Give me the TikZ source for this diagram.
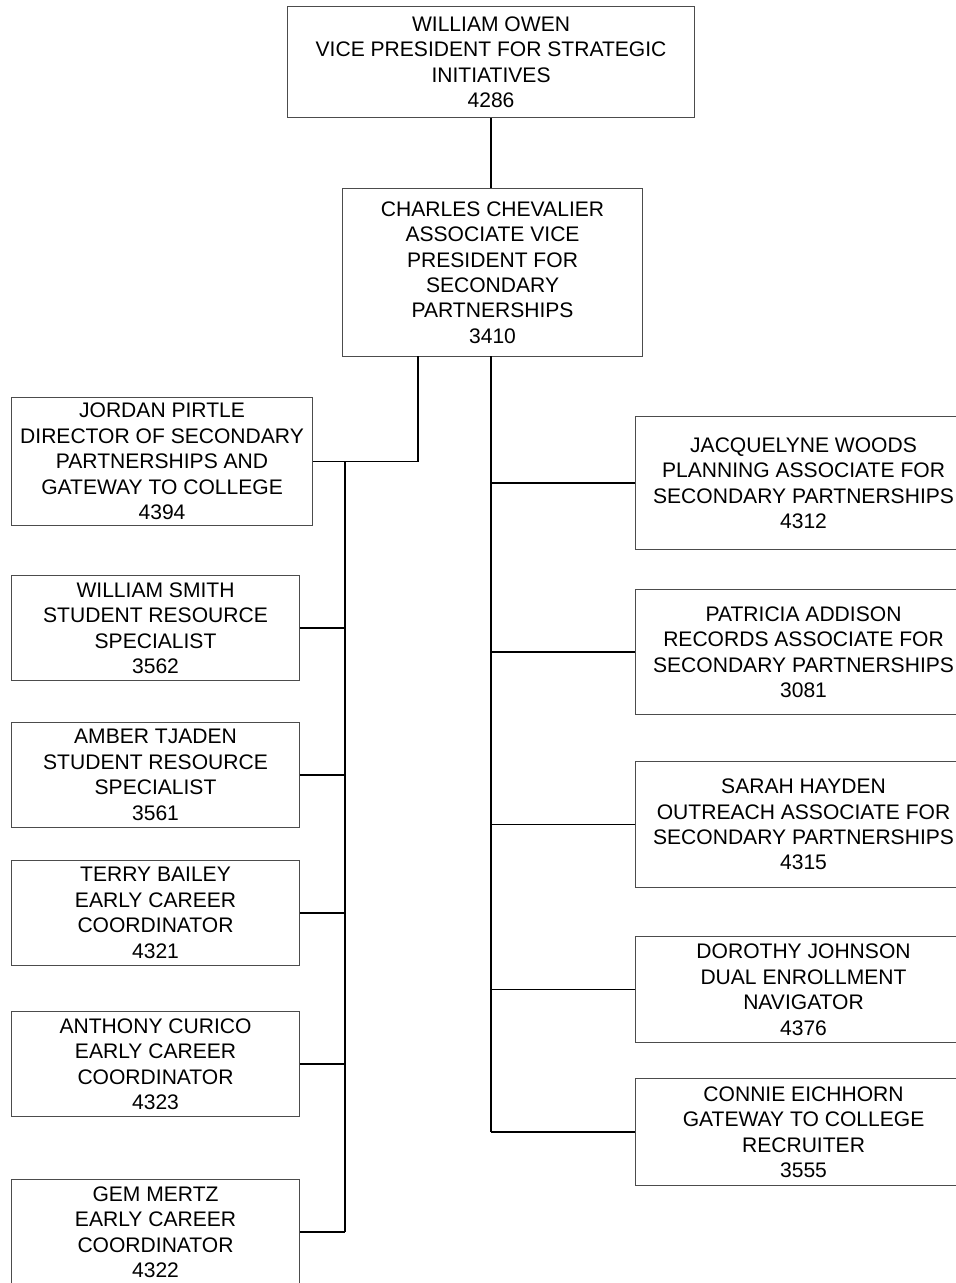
\documentclass[tikz,border=0pt]{standalone}
\usepackage{fontspec}
\setmainfont{Liberation Sans}
\usetikzlibrary{positioning}

\begin{document}
\begin{tikzpicture}
                [
                    x=0.75pt, y=-0.75pt,
                    staffbox/.style={rectangle, draw=black!70, line width=0.8pt, fill=white, anchor=north west, inner sep=1pt, align=center, text centered, font=\fontsize{15.8}{19.1}\selectfont},
                    topbox/.style={staffbox, minimum width=305.25pt, minimum height=83.25pt},
                    avpbox/.style={staffbox, minimum width=225pt, minimum height=126pt},
                    leftbox/.style={staffbox, minimum width=216pt, minimum height=78.75pt},
                    rightbox/.style={staffbox, minimum width=252pt},
                    link/.style={draw=black, line width=1.1pt}
                ]
                \useasboundingbox (0,0) rectangle (956,1283);
                \clip (0,0) rectangle (956,1283);

                \node [topbox] (owen) at (287,6) {WILLIAM OWEN \\ VICE PRESIDENT FOR STRATEGIC \\ INITIATIVES \\ 4286};
                \node [avpbox] (chevalier) at (342,188) {CHARLES CHEVALIER \\ ASSOCIATE VICE \\ PRESIDENT FOR \\ SECONDARY \\ PARTNERSHIPS \\ 3410};

                \node [leftbox, minimum width=225.75pt, minimum height=96pt] (pirtle) at (11,397) {JORDAN PIRTLE \\ DIRECTOR OF SECONDARY \\ PARTNERSHIPS AND \\ GATEWAY TO COLLEGE \\ 4394};
                \node [leftbox] (smith) at (11,575) {WILLIAM SMITH \\ STUDENT RESOURCE \\ SPECIALIST \\ 3562};
                \node [leftbox] (tjaden) at (11,722) {AMBER TJADEN \\ STUDENT RESOURCE \\ SPECIALIST \\ 3561};
                \node [leftbox] (bailey) at (11,860) {TERRY BAILEY \\ EARLY CAREER \\ COORDINATOR \\ 4321};
                \node [leftbox] (curico) at (11,1011) {ANTHONY CURICO \\ EARLY CAREER \\ COORDINATOR \\ 4323};
                \node [leftbox] (mertz) at (11,1179) {GEM MERTZ \\ EARLY CAREER \\ COORDINATOR \\ 4322};

                \node [rightbox, minimum height=99.75pt] (woods) at (635,416) {JACQUELYNE WOODS \\ PLANNING ASSOCIATE FOR \\ SECONDARY PARTNERSHIPS \\ 4312};
                \node [rightbox, minimum height=93.75pt] (addison) at (635,589) {PATRICIA ADDISON \\ RECORDS ASSOCIATE FOR \\ SECONDARY PARTNERSHIPS \\ 3081};
                \node [rightbox, minimum height=94.5pt] (hayden) at (635,761) {SARAH HAYDEN \\ OUTREACH ASSOCIATE FOR \\ SECONDARY PARTNERSHIPS \\ 4315};
                \node [rightbox, minimum height=79.5pt] (johnson) at (635,936) {DOROTHY JOHNSON \\ DUAL ENROLLMENT \\ NAVIGATOR \\ 4376};
                \node [rightbox, minimum height=80.25pt] (eichhorn) at (635,1078) {CONNIE EICHHORN \\ GATEWAY TO COLLEGE \\ RECRUITER \\ 3555};

                \coordinate (ltap) at (418,356);
                \coordinate (lbus) at (345,462);
                \coordinate (rbus) at (491,356);

                \draw [link] (owen.south) -- (owen.south |- chevalier.north);

                % left column
                \draw [link] (ltap) |- (pirtle.east);
                \draw [link] (lbus) -- (lbus |- mertz.east);
                \foreach \n in {smith, tjaden, bailey, curico, mertz}
                    \draw [link] (\n.east) -- (\n.east -| lbus);

                % right column
                \draw [link] (rbus) -- (rbus |- eichhorn.west);
                \foreach \n in {woods, addison, hayden, johnson, eichhorn}
                    \draw [link] (\n.west) -- (\n.west -| rbus);

            \end{tikzpicture}
\end{document}
